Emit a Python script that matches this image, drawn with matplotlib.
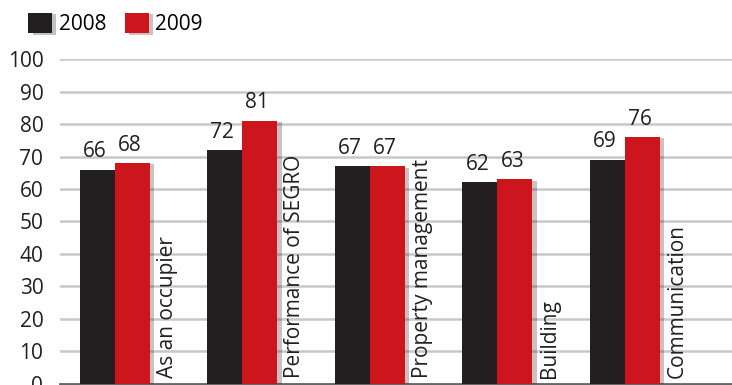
import numpy as np
import matplotlib.pyplot as plt
import matplotlib.patheffects as pe

# data
categories = ['As an occupier', 'Performance of SEGRO', 'Property management', 'Building', 'Communication']
v2008 = [66, 72, 67, 62, 69]
v2009 = [68, 81, 67, 63, 76]

black = '#231f20'
red = '#cc151d'

plt.rcParams['font.family'] = ['Open Sans', 'DejaVu Sans']

fig = plt.figure(figsize=(7.32, 3.85), dpi=100)
# axes placed in pixel terms: left 60, bottom 1.5, right edge of figure, top at y=59
ax = fig.add_axes([60/732, 1.5/385, 1 - 60/732, (383.5 - 59.3)/385])

x = np.arange(len(categories))
w = 0.275
shadow = [pe.SimplePatchShadow(offset=(3, -1), alpha=0.25), pe.Normal()]

b1 = ax.bar(x - w/2, v2008, w, color=black, path_effects=shadow, zorder=3)
b2 = ax.bar(x + w/2, v2009, w, color=red, path_effects=shadow, zorder=3)

for bars, vals in ((b1, v2008), (b2, v2009)):
    for b, v in zip(bars, vals):
        ax.text(b.get_x() + b.get_width()/2 - 0.02, v + 2.3, str(v), ha='center', va='bottom',
                fontsize=15, color='#231f20')

# category labels, vertical, next to each pair
for xi, c in zip(x, categories):
    ax.text(xi + 0.41, 1.8, c, rotation=90, ha='center', va='bottom',
            fontsize=15, color='#231f20', zorder=4)

ax.set_xlim(-0.431, 4.84)
ax.set_ylim(0, 100)
ax.set_yticks(np.arange(0, 101, 10))
ax.yaxis.grid(True, color='#c8c8c8', lw=1.8, zorder=0)
ax.set_axisbelow(True)
ax.set_xticks([])
ax.tick_params(axis='y', length=0, pad=12, labelsize=15, labelcolor='#231f20')
for s in ['top', 'right', 'left']:
    ax.spines[s].set_visible(False)
ax.spines['bottom'].set_color('#666666')
ax.spines['bottom'].set_linewidth(2)
ax.spines['bottom'].set_clip_on(False)

fig.legend([b1, b2], ['2008', '2009'], loc='center left', bbox_to_anchor=(20/732, 1 - 24/385),
           ncol=2, frameon=False, fontsize=15, handlelength=1.15, handleheight=1.15,
           handletextpad=0.3, columnspacing=0.9, borderaxespad=0)

fig.savefig('out.png', dpi=100)
